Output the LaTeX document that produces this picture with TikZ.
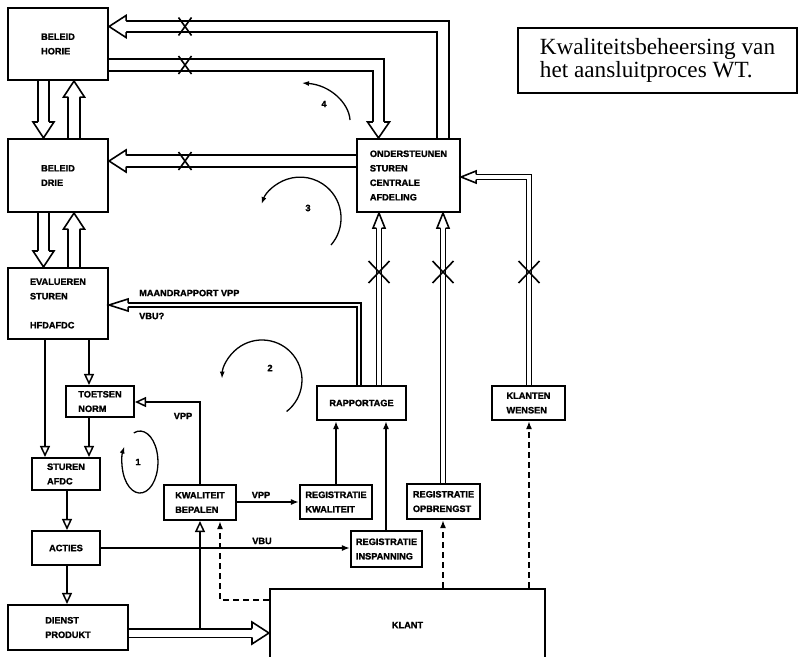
\documentclass[tikz,border=0pt]{standalone}
\usepackage{fontspec}
\setmainfont{Liberation Serif}
\newfontfamily\bxf{Liberation Sans}[BoldFont={Liberation Sans Bold},BoldFeatures={FakeBold=1.6}]
\usetikzlibrary{arrows.meta,calc}
% open head: tip, angle, length, half width, half gap of the double line
\newcommand{\ohead}[5]{%
  \begin{scope}[shift={#1},rotate=#2]
    \filldraw[fill=white,line width=1.6pt,line join=miter] (-#3,#5) -- (-#3,#4) -- (0,0) -- (-#3,-#4) -- (-#3,-#5);
  \end{scope}}
\newcommand{\xmark}[3]{\draw[line width=1.6pt] #1 +(-#2,-#3) -- +(#2,#3) #1 +(-#2,#3) -- +(#2,-#3);}
\begin{document}
\begin{tikzpicture}[x=1pt,y=-1pt,
  box/.style={draw,line width=2.1pt,inner sep=0pt,align=left,
    font=\bxf\bfseries\fontsize{9.2}{14.5}\selectfont},
  lbl/.style={inner sep=0pt,font=\bxf\bfseries\fontsize{9.2}{11}\selectfont},
  bigdbl/.style={draw,line width=1.8pt,double distance=9.5pt,line join=miter},
  middbl/.style={draw,line width=1.9pt,double distance=2pt,line join=miter},
  thindbl/.style={draw,line width=1.6pt,double distance=3.5pt,line join=miter},
  oarr/.style={line width=1.6pt,-{Triangle[open,length=11pt,width=10pt,line width=1.5pt]}},
  farr/.style={line width=1.6pt,-{Latex[length=8pt,width=6pt]}},
  darr/.style={line width=1.6pt,dash pattern=on 6pt off 4pt,-{Latex[length=8pt,width=6pt]}},
  circ/.style={line width=1.3pt,-{Latex[length=7pt,width=5pt]}}]
\useasboundingbox (0,0) rectangle (802,656);
\fill[white] (0,0) rectangle (802,656);

% boxes
\node[box,minimum width=100pt,minimum height=72pt] (horie) at (58,44) {BELEID\\HORIE};
\node[box,minimum width=100pt,minimum height=73pt] (drie) at (58,175.5) {BELEID\\DRIE};
\node[box,minimum width=100pt,minimum height=71pt] (eval) at (58,303.5) {EVALUEREN\\STUREN\\[14.5pt]HFDAFDC};
\node[box,minimum width=103pt,minimum height=73pt] (onder) at (408.5,175.5) {ONDERSTEUNEN\\STUREN\\CENTRALE\\AFDELING};
\node[box,minimum width=68pt,minimum height=31pt] (toetsen) at (100,401.5) {TOETSEN\\NORM};
\node[box,minimum width=68pt,minimum height=32pt] (sturen) at (66,474) {STUREN\\AFDC};
\node[box,minimum width=68pt,minimum height=34pt] (acties) at (66,548) {ACTIES};
\node[box,minimum width=120pt,minimum height=45pt] (dienst) at (68,627.5) {DIENST\\PRODUKT};
\node[box,minimum width=72pt,minimum height=35pt] (kwal) at (200,502.5) {KWALITEIT\\BEPALEN};
\node[box,minimum width=72pt,minimum height=34pt] (regkwal) at (336,502) {REGISTRATIE\\KWALITEIT};
\node[box,minimum width=89pt,minimum height=34pt] (rapp) at (361.5,403) {RAPPORTAGE};
\node[box,minimum width=73pt,minimum height=34pt] (kw) at (528.5,403) {KLANTEN\\WENSEN};
\node[box,minimum width=73pt,minimum height=35pt] (regopb) at (443.5,501.5) {REGISTRATIE\\OPBRENGST};
\node[box,minimum width=71pt,minimum height=36pt] (regins) at (386.5,549) {REGISTRATIE\\INSPANNING};
\node[box,minimum width=275pt,minimum height=72pt] (klant) at (407.5,625) {KLANT};
\node[draw,line width=1.3pt,minimum width=279pt,minimum height=65pt,inner sep=0pt,align=left,
  font=\fontsize{23.2}{23.5}\selectfont] (title) at (657.5,60.5) {Kwaliteitsbeheersing van\\het aansluitproces WT.};

% bend coordinates
\coordinate (b1) at (443,26.5);
\coordinate (b2) at (378.5,65);
\coordinate (b3) at (200,161);
\coordinate (v1) at (43.5,0);
\coordinate (v2) at (74,0);
\coordinate (c1) at (379,0);
\coordinate (c2) at (443,0);
\coordinate (c3) at (529,177);
\coordinate (c4) at (359,305);
\coordinate (d1) at (89,0);
\coordinate (d2) at (45,0);
\coordinate (d4) at (67,0);
\coordinate (d5) at (200,402);
\coordinate (d6) at (200,628);
\coordinate (e1) at (200,633);
\coordinate (f1) at (0,502);
\coordinate (f2) at (0,548);
\coordinate (f3) at (336,0);
\coordinate (f4) at (386,0);
\coordinate (g1) at (220,600);

% fat double arrows
\path[bigdbl] (onder.north -| b1) -- (b1) -- ($(horie.east |- b1)+(17,0)$);
\ohead{(horie.east |- b1)}{180}{17}{11}{5.65}
\path[bigdbl] (horie.east |- b2) -- (b2) -- ($(onder.north -| b2)+(0,-16)$);
\ohead{(onder.north -| b2)}{-90}{16}{11}{5.65}
\path[bigdbl] (onder.west |- b3) -- ($(drie.east |- b3)+(17,0)$);
\ohead{(drie.east |- b3)}{180}{17}{11}{5.65}
\xmark{(185,26.5)}{6.5}{9}
\xmark{(185,65)}{6.5}{9}
\xmark{(185,161)}{6.5}{9}

\path[bigdbl] (horie.south -| v1) -- ($(drie.north -| v1)+(0,-16)$);
\ohead{(drie.north -| v1)}{-90}{16}{10.5}{5.65}
\path[bigdbl] (drie.north -| v2) -- ($(horie.south -| v2)+(0,16)$);
\ohead{(horie.south -| v2)}{90}{16}{10.5}{5.65}
\path[bigdbl] (drie.south -| v1) -- ($(eval.north -| v1)+(0,-16)$);
\ohead{(eval.north -| v1)}{-90}{16}{10.5}{5.65}
\path[bigdbl] (eval.north -| v2) -- ($(drie.south -| v2)+(0,16)$);
\ohead{(drie.south -| v2)}{90}{16}{10.5}{5.65}

% thin double arrows into ondersteunen
\path[thindbl] (rapp.north -| c1) -- ($(onder.south -| c1)+(0,15)$);
\ohead{(onder.south -| c1)}{90}{15}{6}{2.55}
\path[thindbl] (regopb.north -| c2) -- ($(onder.south -| c2)+(0,15)$);
\ohead{(onder.south -| c2)}{90}{15}{6}{2.55}
\path[thindbl] (kw.north -| c3) -- (c3) -- ($(onder.east |- c3)+(15,0)$);
\ohead{(onder.east |- c3)}{180}{15}{6}{2.55}
\xmark{(379,272)}{10.5}{11}
\xmark{(443,272)}{10.5}{11}
\xmark{(529,272)}{10.5}{11}

% maandrapport
\path[middbl] (rapp.north -| c4) -- (c4) -- ($(eval.east |- c4)+(19,0)$);
\ohead{(eval.east |- c4)}{180}{19}{6}{1.95}
\node[lbl,anchor=west] (lm) at (139,293) {MAANDRAPPORT VPP};
\node[lbl,anchor=west] (lv) at (139,316) {VBU?};

% dienst to klant
\path[draw,line width=1.7pt,double distance=7pt] (dienst.east |- e1) -- ($(klant.west |- e1)+(-17,0)$);
\ohead{(klant.west |- e1)}{0}{17}{11}{4.35}

% single open arrows
\draw[oarr] (eval.south -| d1) -- (toetsen.north -| d1);
\draw[oarr] (eval.south -| d2) -- (sturen.north -| d2);
\draw[oarr] (toetsen.south -| d1) -- (sturen.north -| d1);
\draw[oarr] (sturen.south -| d4) -- (acties.north -| d4);
\draw[oarr] (acties.south -| d4) -- (dienst.north -| d4);
\draw[oarr] (kwal.north -| d5) -- (d5) -- (toetsen.east |- d5);
\draw[oarr] (d6) -- (kwal.south -| d6);
\node[lbl] (l1) at (183,416) {VPP};

% filled arrows
\draw[farr] (kwal.east |- f1) -- (regkwal.west |- f1);
\node[lbl] (l2) at (261,495) {VPP};
\draw[farr] (acties.east |- f2) -- (regins.west |- f2);
\node[lbl] (l3) at (262,541) {VBU};
\draw[farr] (regkwal.north -| f3) -- (rapp.south -| f3);
\draw[farr] (regins.north -| f4) -- (rapp.south -| f4);

% dashed
\draw[darr] (klant.west |- g1) -- (g1) -- (kwal.south -| g1);
\draw[darr] (klant.north -| c2) -- (regopb.south -| c2);
\draw[darr] (klant.north -| c3) -- (kw.south -| c3);

% cycles
\draw[circ] (350,120) .. controls (349,103) and (330,85) .. (302,83);
\node[lbl] (n4) at (324,104) {4};
\draw[circ] (331,245) arc[start angle=41,end angle=-160,radius=41];
\node[lbl] (n3) at (308,208) {3};
\draw[circ] (286.6,411.5) arc[start angle=52,end angle=-178,radius=40];
\node[lbl] (n2) at (270,368) {2};
\draw[circ] (133.8,432.9) arc[start angle=-110,end angle=210,x radius=18,y radius=31];
\node[lbl] (n1) at (138,462) {1};
\end{tikzpicture}
\end{document}
